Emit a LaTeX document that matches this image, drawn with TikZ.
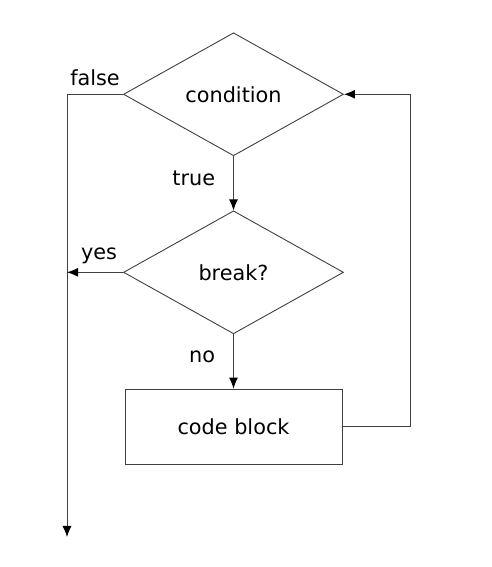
\documentclass[tikz,border=0pt]{standalone}
\usepackage{fontspec}
\setmainfont{DejaVu Sans}
\usetikzlibrary{shapes.geometric,arrows.meta,positioning}

\tikzset{
  decision/.style={diamond, draw=black!75, line width=0.9pt, aspect=1.79,
    inner sep=0pt, minimum width=220pt, minimum height=123pt},
  process/.style={rectangle, draw=black!75, line width=0.9pt,
    minimum width=217pt, minimum height=75pt},
  flow/.style={draw=black!75, line width=0.9pt},
  flowto/.style={flow, -{Latex[length=11pt,width=9pt,black]}},
  lbl/.style={inner sep=2pt}
}

\begin{document}
\begin{tikzpicture}[font=\fontsize{20.8}{24}\selectfont]

  \useasboundingbox (0,0) rectangle (491pt,567pt);

  % Layout the nodes
  \matrix[row sep=54.5pt] (loop) at (233.5pt,318.5pt)
  { %
    \node[decision] (cond)  {condition} ; \\ %
    \node[decision] (brk)   {break?} ; \\ %
    \node[process]  (block) {code block} ; \\ %
  };

  % Loop exit
  \coordinate (exit) at (67pt,30pt); %

  % Connections
  \draw[flowto] (cond) -- node[lbl, left=16pt, yshift=5pt] {true} (brk) ; %
  \draw[flowto] (brk) -- node[lbl, left=16pt, yshift=5pt] {no} (block) ; %
  \draw[flowto] (block.east) -- ++(68pt,0) |- (cond.east) ; %
  \draw[flowto] (cond.west) -- node[lbl, above=6pt] {false}
    (cond.west -| exit) -- (exit) ; %
  \draw[flowto] (brk.west) -- node[lbl, above=6pt, xshift=4pt] {yes}
    (brk.west -| exit) ; %

\end{tikzpicture}
\end{document}
